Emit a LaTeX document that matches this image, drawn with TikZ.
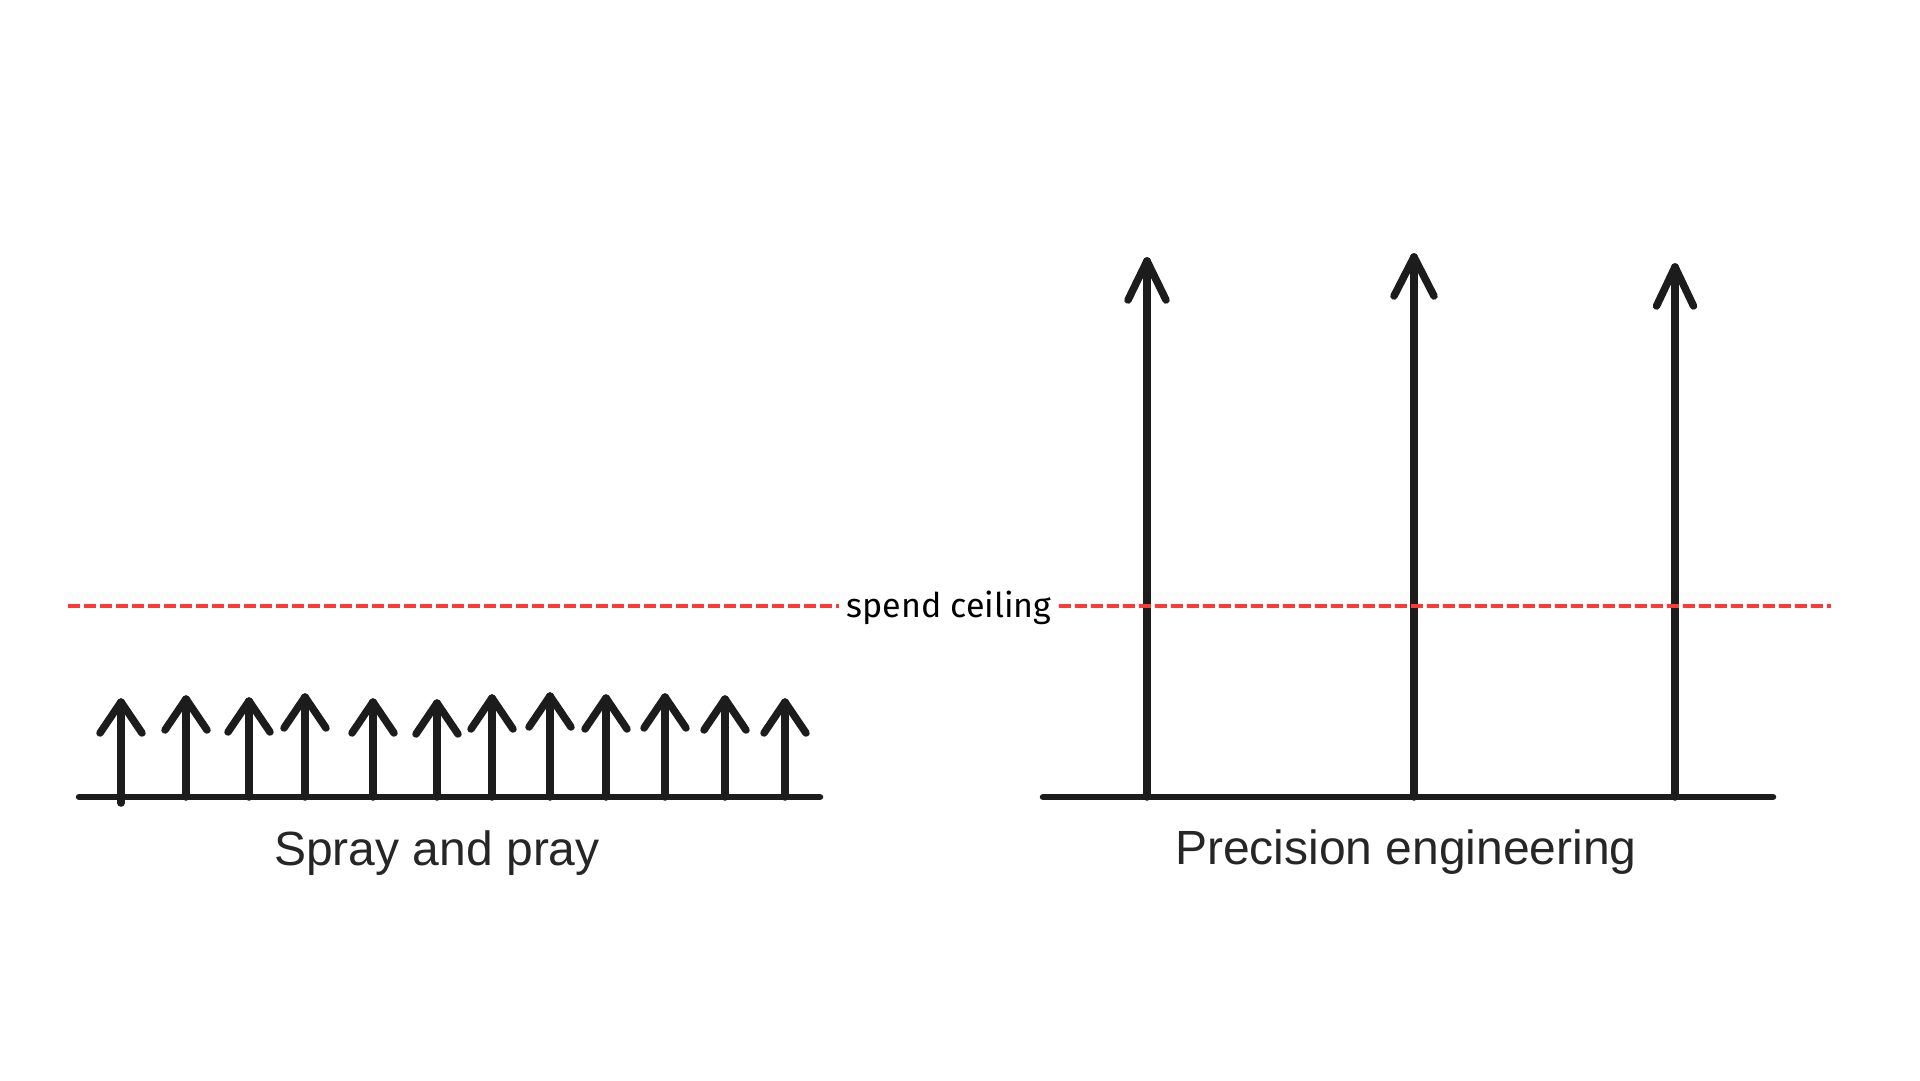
\documentclass[tikz,border=0pt]{standalone}
\usepackage{fontspec}
\setmainfont{Liberation Sans}
\newfontfamily\ceilfont{Fira Sans}
\usetikzlibrary{calc}
\definecolor{ink}{HTML}{1C1C1C}
\definecolor{dashred}{HTML}{FF3838}
\definecolor{labelgray}{HTML}{262626}
\begin{document}
\begin{tikzpicture}[x=1pt,y=-1pt,
  shaft/.style={line width=7.5pt, draw=ink, line cap=round},
  head/.style={line width=7.5pt, draw=ink, line cap=round, line join=round},
  baseline/.style={line width=6.5pt, draw=ink, line cap=round},
  ceil/.style={line width=3.6pt, draw=dashred, dash pattern=on 12pt off 4pt},
  caption/.style={font=\fontsize{48}{56}\selectfont, text=labelgray, anchor=base, inner sep=0pt},
  ceillabel/.style={font=\ceilfont\fontsize{34}{40}\selectfont, text=black, anchor=base, inner xsep=7pt, inner ysep=0pt}]
\useasboundingbox[fill=white] (0,0) rectangle (1920,1080);

% left group: spray and pray
\coordinate (lb0) at (79,797);
\coordinate (lb1) at (820,797);
\draw[baseline] (lb0) -- (lb1);
\foreach \i/\x/\t in {1/121/702, 2/186/699, 3/249/701, 4/305/697, 5/373/702, 6/437/703, 7/492/698, 8/550/696, 9/606/698, 10/665/697, 11/725/699, 12/785/702}{
  \coordinate (ls\i) at (\x,797);
  \coordinate (lt\i) at (\x,\t);
  \draw[shaft] (ls\i) -- (lt\i);
  \draw[head] ($(lt\i)+(-21,31)$) -- (lt\i) -- ($(lt\i)+(21,31)$);
}
\draw[shaft] (ls1) -- ++(0,6);
\node[caption] (lcap) at (437,865) {Spray and pray};

% right group: precision engineering
\coordinate (rb0) at (1043,797);
\coordinate (rb1) at (1773,797);
\draw[baseline] (rb0) -- (rb1);
\foreach \i/\x/\t/\w in {1/1147/261/19, 2/1414/257/20, 3/1675/267/18.5}{
  \coordinate (rs\i) at (\x,797);
  \coordinate (rt\i) at (\x,\t);
  \draw[shaft] (rs\i) -- (rt\i);
  \draw[head] ($(rt\i)+(-\w,39)$) -- (rt\i) -- ($(rt\i)+(\w,39)$);
}
\node[caption] (rcap) at (1406,864) {Precision engineering};

% spend ceiling
\node[ceillabel] (ceil) at (949,617) {spend ceiling};
\coordinate (cl) at (68,606);
\coordinate (cr) at (1831,606);
\draw[ceil] (cl) -- (cl -| ceil.west);
\draw[ceil] (cr -| ceil.east) -- (cr);
\end{tikzpicture}
\end{document}
